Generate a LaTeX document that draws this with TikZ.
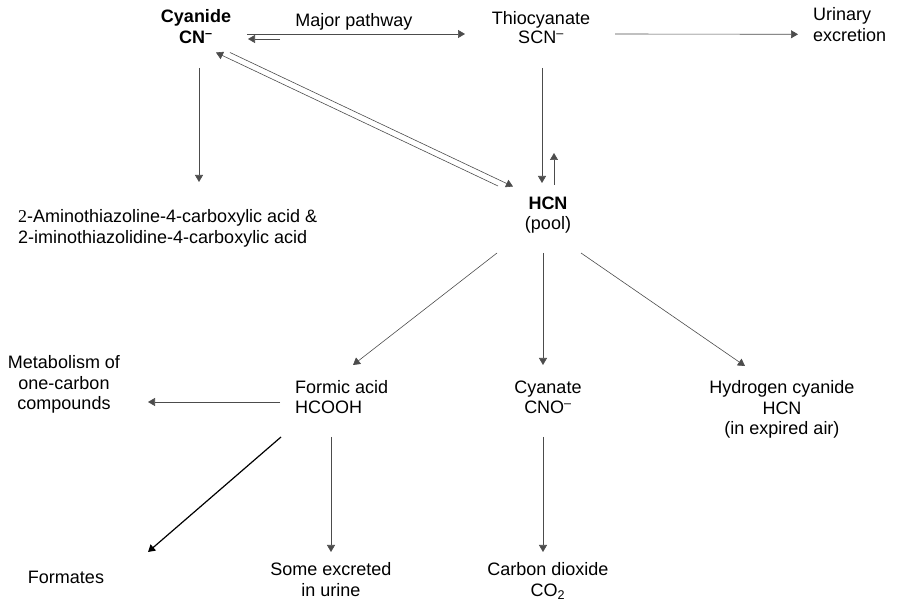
\documentclass[tikz,border=0pt]{standalone}
\usepackage{fontspec}
\setmainfont{Liberation Sans}
\newfontfamily\twofont{Liberation Serif}
\usetikzlibrary{arrows.meta}

\begin{document}
\begin{tikzpicture}[x=1pt,y=-1pt,
    txt/.style={inner sep=0pt,align=center,anchor=base,font=\fontsize{18}{20.7}\selectfont},
    ltxt/.style={txt,align=left,anchor=base west},
    arr/.style={draw=black!70,line width=0.6pt,-{Triangle[length=7pt,width=8pt]}}]

    \useasboundingbox (0,0) rectangle (898,601);

    %top row:
    \node[txt,font=\fontsize{18}{20.7}\selectfont\bfseries] (cyan) at (196,43.3) {Cyanide\\CN\textsuperscript{--}};
    \node[txt] (path) at (354,26.7) {Major pathway};
    \node[txt,font=\fontsize{18}{19}\selectfont] (thio) at (541,43.7) {Thiocyanate\\SCN\textsuperscript{--}};
    \node[ltxt] (urin) at (813,41.7) {Urinary\\excretion};

    %middle:
    \node[ltxt] (amino) at (18,243.3) {{\twofont 2}-Aminothiazoline-4-carboxylic acid \&\\2-iminothiazolidine-4-carboxylic acid};
    \node[txt] (hcn) at (548,230) {\textbf{HCN}\\(pool)};

    %products of the pool:
    \node[txt] (metab) at (64,410) {Metabolism of\\one-carbon\\compounds};
    \node[ltxt] (formic) at (295,414) {Formic acid\\HCOOH};
    \node[txt] (cyanate) at (548,414) {Cyanate\\CNO\textsuperscript{--}};
    \node[txt] (hydro) at (782,435) {Hydrogen cyanide\\HCN\\(in expired air)};

    %bottom row:
    \node[txt] (formates) at (66,584) {Formates};
    \node[txt] (urine) at (331,596.5) {Some excreted\\in urine};
    \node[txt] (co2) at (548,596.5) {Carbon dioxide\\CO\textsubscript{2}};

    %arrows at the top:
    \draw[arr] ([shift={(51,-9.3)}]cyan.base) -- ([shift={(-76,-9.7)}]thio.base);
    \draw[arr] ([shift={(84,-4.3)}]cyan.base) -- ([shift={(52,-4.3)}]cyan.base);
    \draw[arr] ([shift={(74,-9.7)}]thio.base) -- ([shift={(-15,-7.4)}]urin.base west);
    \draw[arr] ([shift={(3,24.7)}]cyan.base) -- ([shift={(181,-61.3)}]amino.base west);

    %cyanide <-> pool:
    \draw[arr] ([shift={(34,9.2)}]cyan.base) -- ([shift={(-35,-43.5)}]hcn.base);
    \draw[arr] ([shift={(-50,-44)}]hcn.base) -- ([shift={(20,9.2)}]cyan.base);
    \draw[arr] ([shift={(1,24.3)}]thio.base) -- ([shift={(-6,-47)}]hcn.base);
    \draw[arr] ([shift={(6,-45)}]hcn.base) -- ([shift={(6,-77)}]hcn.base);

    %out of the pool:
    \draw[arr] ([shift={(-51,23)}]hcn.base) -- ([shift={(58,-49)}]formic.base west);
    \draw[arr] ([shift={(-5,23)}]hcn.base) -- ([shift={(-5,-49)}]cyanate.base);
    \draw[arr] ([shift={(33,23)}]hcn.base) -- ([shift={(-37,-69)}]hydro.base);

    %formic acid and cyanate:
    \draw[arr] ([shift={(-15,-12)}]formic.base west) -- ([shift={(84,-8)}]metab.base);
    \draw[arr,draw=black,line width=1.2pt] ([shift={(-14,23)}]formic.base west) -- ([shift={(82,-32)}]formates.base);
    \draw[arr] ([shift={(36,23)}]formic.base west) -- ([shift={(0,-44.5)}]urine.base);
    \draw[arr] ([shift={(-5,23)}]cyanate.base) -- ([shift={(-5,-44.5)}]co2.base);

\end{tikzpicture}
\end{document}
